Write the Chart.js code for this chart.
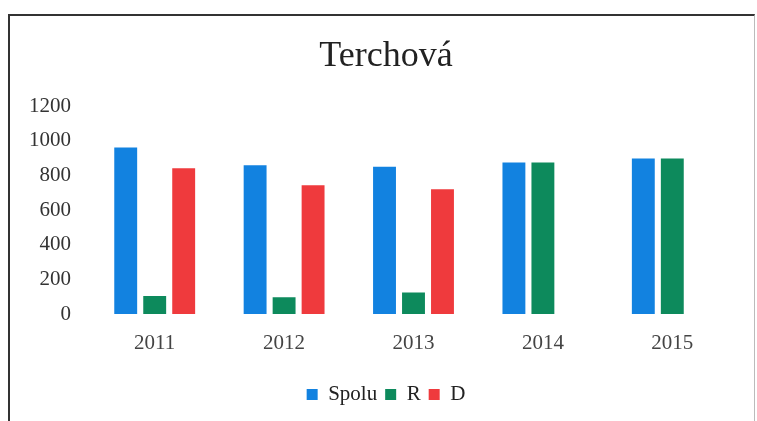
<!DOCTYPE html>
<html>
<head>
<meta charset="utf-8">
<script src="https://cdn.jsdelivr.net/npm/chart.js@4.4.0/dist/chart.umd.min.js"></script>
<style>
    body { margin: 0; background: #fff; overflow: hidden; }
    #box {
        position: absolute; left: 8px; top: 14px;
        width: 744px; height: 405px;
        border-top: 2px solid #333; border-left: 2px solid #333; border-right: 1px solid #bbb;
    }
</style>
</head>
<body>
<div id="box"><canvas id="terchovaChart"></canvas></div>
<script>
// Data
const years = ['2011', '2012', '2013', '2014', '2015'];
const spolu = [962, 859, 851, 875, 898];
const rValues = [104, 97, 124, 875, 898];
const dValues = [842, 743, 720, null, null];
const yTicks = [0, 200, 400, 600, 800, 1000, 1200];

const serif = '"Liberation Serif", "DejaVu Serif", serif';

const ctx = document.getElementById('terchovaChart').getContext('2d');
const terchovaChart = new Chart(ctx, {
    type: 'bar',
    data: {
        labels: years,
        datasets: [{
            label: 'Spolu',
            data: spolu,
            backgroundColor: '#1282e0'
        }, {
            label: 'R',
            data: rValues,
            backgroundColor: '#0d8a5c'
        }, {
            label: 'D',
            data: dValues,
            backgroundColor: '#ef3a3d'
        }]
    },
    options: {
        responsive: true,
        maintainAspectRatio: false,
        animation: false,
        categoryPercentage: 0.672,
        barPercentage: 0.79,
        layout: {
            padding: { top: 0, right: 0, bottom: 6, left: 8 }
        },
        scales: {
            x: {
                grid: { display: false, drawTicks: false },
                border: { display: false },
                afterFit: (axis) => { axis.height = 62; },
                ticks: {
                    color: '#444',
                    padding: 17,
                    font: { family: serif, size: 21 }
                }
            },
            y: {
                min: 0,
                max: yTicks[yTicks.length - 1],
                afterBuildTicks: (axis) => { axis.ticks = yTicks.map(v => ({ value: v })); },
                afterFit: (axis) => { axis.width = 72; },
                grid: { display: false, drawTicks: false },
                border: { display: false },
                ticks: {
                    color: '#333',
                    padding: 19,
                    font: { family: serif, size: 21 },
                    callback: (value) => String(value) // no thousands separator
                }
            },
            // empty right-hand axis, only takes up the blank strip right of the bars
            yRight: {
                position: 'right',
                afterFit: (axis) => { axis.width = 17; },
                grid: { display: false, drawTicks: false },
                border: { display: false },
                ticks: { display: false }
            }
        },
        plugins: {
            title: {
                display: true,
                text: 'Terchová',
                color: '#222',
                padding: { top: 19, bottom: 28 },
                font: { family: serif, size: 36, weight: 'normal' }
            },
            legend: {
                position: 'bottom',
                labels: {
                    color: '#222',
                    boxWidth: 11,
                    boxHeight: 11,
                    padding: 8,
                    font: { family: serif, size: 21 }
                }
            },
            tooltip: { enabled: false }
        }
    }
});
</script>
</body>
</html>
